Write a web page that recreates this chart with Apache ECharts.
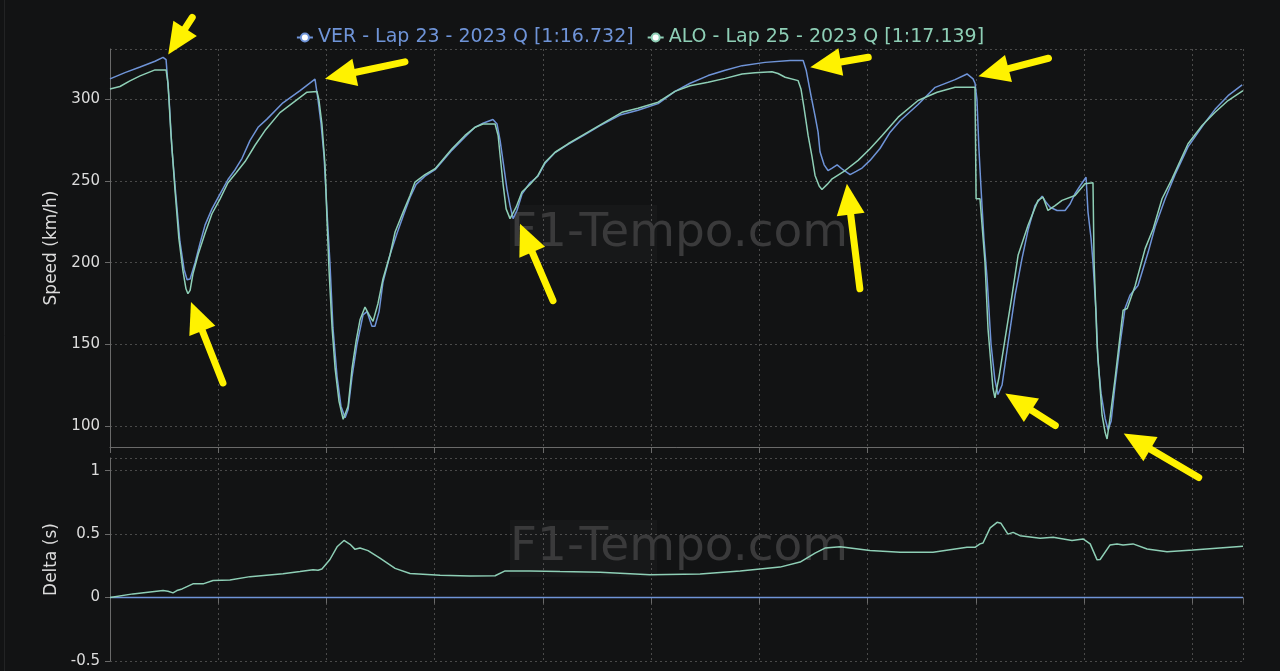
<!DOCTYPE html>
<html><head><meta charset="utf-8">
<script src="https://cdn.jsdelivr.net/npm/echarts@6/dist/echarts.min.js"></script>
<style>html,body{margin:0;padding:0;background:#121314;}#c{width:1280px;height:671px;}</style>
</head><body><div id="c"></div><script>
// ---- data (distance in metres) ----
const verName = 'VER - Lap 23 - 2023 Q [1:16.732]';
const aloName = 'ALO - Lap 25 - 2023 Q [1:17.139]';

const verDist = [0,69,139,208,245,259,273,286,305,323,342,356,370,393,416,439,471,508,545,578,610,647,684,725,799,878,947,952,961,975,989,1003,1016,1030,1049,1067,1086,1100,1118,1141,1169,1187,1210,1224,1243,1261,1294,1326,1358,1386,1414,1455,1502,1580,1640,1686,1723,1769,1788,1802,1816,1834,1848,1862,1880,1903,1940,1977,2010,2056,2116,2194,2264,2356,2439,2532,2610,2680,2763,2842,2920,3026,3142,3202,3216,3239,3257,3271,3280,3299,3317,3336,3359,3386,3419,3447,3474,3511,3557,3604,3650,3733,3812,3904,3959,3987,3996,4005,4014,4024,4037,4052,4070,4088,4102,4121,4148,4181,4213,4241,4273,4306,4324,4343,4375,4412,4435,4458,4481,4509,4518,4532,4541,4555,4564,4578,4597,4611,4625,4643,4666,4689,4712,4749,4796,4828,4874,4920,4980,5059,5105,5165,5230];
const verSpeed = [312.7,316.5,320,323.5,325.9,324.5,300,270,240,213,196,189.5,190,200,212,223,233,242,251,257,264,275,283,288,298,305.5,312.5,313,300,285,265,230,200,160,130,112,105,110,130,150,168,170,161,161,170,188,205,218,230,240,248,253,257,269,277,283,285.5,287.8,285,275,262,245,235,227,232,242,249,253,261,267.5,272.5,278.5,284,290.5,293.5,297.5,305,310,314.7,318,320.8,322.8,323.9,323.9,318,302,290,280,268,260,256.5,258,260,257,254,256,258,262.7,270,280,287,297,307.5,312.2,315.7,312.7,310,300,270,245,215,190,150,128,119.2,125,150,180,202.5,220,235,240.8,237,234,232,232,236,242.3,247,252.4,231,215,200,170,140,120,104.5,97.4,103,125,150,172,180,186,206.5,222,239,254,271,286,294,302.4,309];

const aloDist = [0,46,92,139,185,208,259,268,281,300,318,337,351,360,370,383,407,439,471,508,545,582,624,670,716,785,878,910,956,965,979,993,1003,1012,1026,1040,1058,1077,1086,1100,1118,1137,1155,1178,1197,1215,1238,1261,1294,1317,1354,1386,1409,1455,1502,1580,1640,1686,1723,1779,1793,1802,1816,1830,1848,1857,1876,1903,1940,1977,2010,2056,2116,2194,2273,2365,2439,2532,2610,2680,2763,2842,2920,2980,3058,3086,3119,3179,3192,3206,3225,3243,3257,3276,3289,3313,3336,3396,3456,3511,3567,3641,3733,3821,3904,3996,4001,4019,4042,4056,4079,4088,4107,4135,4167,4195,4241,4287,4310,4333,4366,4398,4458,4504,4541,4546,4560,4583,4597,4606,4620,4643,4666,4680,4699,4736,4782,4819,4860,4906,4980,5045,5105,5165,5234];
const aloSpeed = [306.5,308,311.5,314.5,317,318.2,318.2,310,280,245,215,195,184,181,183,193,205,218,230,239,249,255,262,272,281,292,301.4,304.5,305,300,285,260,225,195,160,135,115,104,103.5,112,135,152,165,172.8,168,164,175,190,205,218.8,231,241.2,249.4,254,257.6,269.8,278,283,285,285,278,266,248,233,227,226,234,243.3,248,253.5,261.6,267.7,272.9,279,285.1,292.2,294.7,298.4,305,308.5,310.6,313,315.7,316.5,317.1,316,313.7,311.6,306.5,295,278,265,253.5,247,244.9,248,251.4,256.5,262.7,269.8,278,289.2,299.4,304.5,307.6,307.6,239.2,239.2,200.4,159.6,122.9,117.2,130,153.5,180,204.5,222.9,238.2,240.2,232,235,238.2,241.2,248.4,249,200.4,149.4,106.5,96,91.9,105,129,155,170.8,171.9,186,208.6,220.8,239.2,251.4,272.9,284.1,292.2,299.4,305.5];

const deltaDist = [0,106,245,268,291,309,333,383,430,476,554,647,799,878,938,961,979,1016,1049,1081,1109,1132,1155,1192,1247,1317,1386,1525,1663,1779,1825,1940,2079,2264,2495,2726,2911,3095,3188,3257,3303,3373,3511,3650,3802,3959,3996,4019,4033,4066,4098,4116,4148,4172,4204,4297,4357,4444,4495,4528,4560,4574,4620,4652,4680,4726,4791,4883,5003,5234];
const aloDelta = [0,0.029,0.055,0.05,0.037,0.055,0.068,0.108,0.108,0.134,0.139,0.165,0.187,0.205,0.22,0.215,0.225,0.3,0.4,0.45,0.42,0.38,0.39,0.37,0.31,0.23,0.19,0.175,0.17,0.172,0.21,0.21,0.205,0.2,0.18,0.185,0.21,0.24,0.28,0.35,0.39,0.4,0.37,0.357,0.357,0.396,0.396,0.423,0.43,0.549,0.593,0.585,0.5,0.514,0.488,0.467,0.475,0.449,0.462,0.423,0.297,0.3,0.415,0.423,0.415,0.423,0.383,0.362,0.375,0.404];
const verDeltaDist = [0, 5234];
const verDelta = [0, 0];

// annotation arrows: tip at [distance, speed], tail offset in px
const arrowTips = [[269,327.7],[374,175.9],[993,312.7],[1894,223.9],[3235,319.8],[3404,248.4],[4012,314.3],[4136,119.8],[4683,95.3]];
const arrowTailOffsets = [[24,-37],[32,81],[80,-17],[33,77],[58,-10],[13,105],[70,-18],[50,32],[75,44]];

// ---- chart ----
const VER_C = '#6f94d8', ALO_C = '#8ecfb6';
const AX_C = '#6a6a6a', GRID_C = '#4a4a4a', TXT_C = '#dcdcdc';
const FONT = "'DejaVu Sans', 'Noto Sans', sans-serif";
const zip = (a, b) => a.map((x, i) => [x, b[i]]);

const chart = echarts.init(document.getElementById('c'));
const xAx = (gi) => ({
  type: 'value', gridIndex: gi, min: 0, max: 5234, interval: 500,
  axisLabel: {show: false},
  axisLine: {show: true, lineStyle: {color: AX_C, width: 1}},
  axisTick: {show: true, length: 6, lineStyle: {color: AX_C}},
  splitLine: {show: true, lineStyle: {color: GRID_C, type: [2, 3]}}
});
const yBase = {
  type: 'value',
  nameLocation: 'middle', nameGap: 50,
  nameTextStyle: {color: TXT_C, fontSize: 17, fontFamily: FONT},
  axisLine: {show: true, lineStyle: {color: AX_C}},
  axisTick: {show: true, length: 5, lineStyle: {color: AX_C}},
  axisLabel: {color: TXT_C, fontSize: 15, margin: 10, fontFamily: FONT, showMinLabel: false, showMaxLabel: false},
  splitLine: {show: true, lineStyle: {color: GRID_C, type: [2, 3]}}
};
const lineS = (name, xi, data, color) => ({
  name, type: 'line', xAxisIndex: xi, yAxisIndex: xi, data,
  symbol: 'emptyCircle', symbolSize: 6, showSymbol: false,
  lineStyle: {width: 1.5, color}, itemStyle: {color}, silent: true
});

const option = {
  backgroundColor: '#121314',
  animation: false,
  textStyle: {fontFamily: FONT},
  legend: {
    top: 23, left: 'center', itemGap: 13, itemWidth: 16, itemHeight: 10,
    textStyle: {fontSize: 19, fontFamily: FONT},
    data: [
      {name: verName, textStyle: {color: VER_C}},
      {name: aloName, textStyle: {color: ALO_C}}
    ]
  },
  grid: [
    {left: 110, right: 37, top: 49, height: 398},
    {left: 110, right: 37, top: 458, height: 203}
  ],
  xAxis: [xAx(0), xAx(1)],
  yAxis: [
    Object.assign({}, yBase, {gridIndex: 0, name: 'Speed (km/h)', min: 87, max: 331}),
    Object.assign({}, yBase, {gridIndex: 1, name: 'Delta (s)', min: -0.5, max: 1.1, interval: 0.5,
      axisLabel: Object.assign({}, yBase.axisLabel, {showMinLabel: true})})
  ],
  series: [
    lineS(verName, 0, zip(verDist, verSpeed), VER_C),
    lineS(aloName, 0, zip(aloDist, aloSpeed), ALO_C),
    lineS(verName, 1, zip(verDeltaDist, verDelta), VER_C),
    lineS(aloName, 1, zip(deltaDist, aloDelta), ALO_C)
  ]
};
chart.setOption(option);

// ---- overlays: watermark + arrows ----
const gfx = [];
gfx.push({type: 'line', shape: {x1: 4.5, y1: 0, x2: 4.5, y2: 671}, style: {stroke: '#222324', lineWidth: 1}, silent: true});
[[510, 205, 234], [510, 520, 548]].forEach(([x, ry, cy]) => {
  gfx.push({type: 'rect', shape: {x: x, y: ry, width: 147, height: 57}, style: {fill: 'rgba(255,255,255,0.025)'}, silent: true, z: 1});
  gfx.push({type: 'text', x: x, y: cy, style: {text: 'F1-Tempo.com', fill: '#3a3a3b', font: "47px 'DejaVu Sans'", textVerticalAlign: 'middle', textAlign: 'left'}, silent: true, z: 1});
});
const YEL = '#fff200';
arrowTips.forEach((t, i) => {
  const p = chart.convertToPixel({gridIndex: 0}, t);
  const off = arrowTailOffsets[i];
  const tail = [p[0] + off[0], p[1] + off[1]];
  const dx = p[0] - tail[0], dy = p[1] - tail[1];
  const L = Math.hypot(dx, dy), ux = dx / L, uy = dy / L;
  const H = 31, W = 14;
  const bx = p[0] - ux * H, by = p[1] - uy * H;
  const nx = -uy, ny = ux;
  gfx.push({type: 'polyline', shape: {points: [tail, [bx + ux * 3, by + uy * 3]]}, style: {stroke: YEL, lineWidth: 7, lineCap: 'round', fill: null}, silent: true, z: 100});
  gfx.push({type: 'polygon', shape: {points: [[p[0], p[1]], [bx + nx * W, by + ny * W], [bx - nx * W, by - ny * W]]}, style: {fill: YEL}, silent: true, z: 100});
});
chart.setOption({graphic: gfx});
</script></body></html>
